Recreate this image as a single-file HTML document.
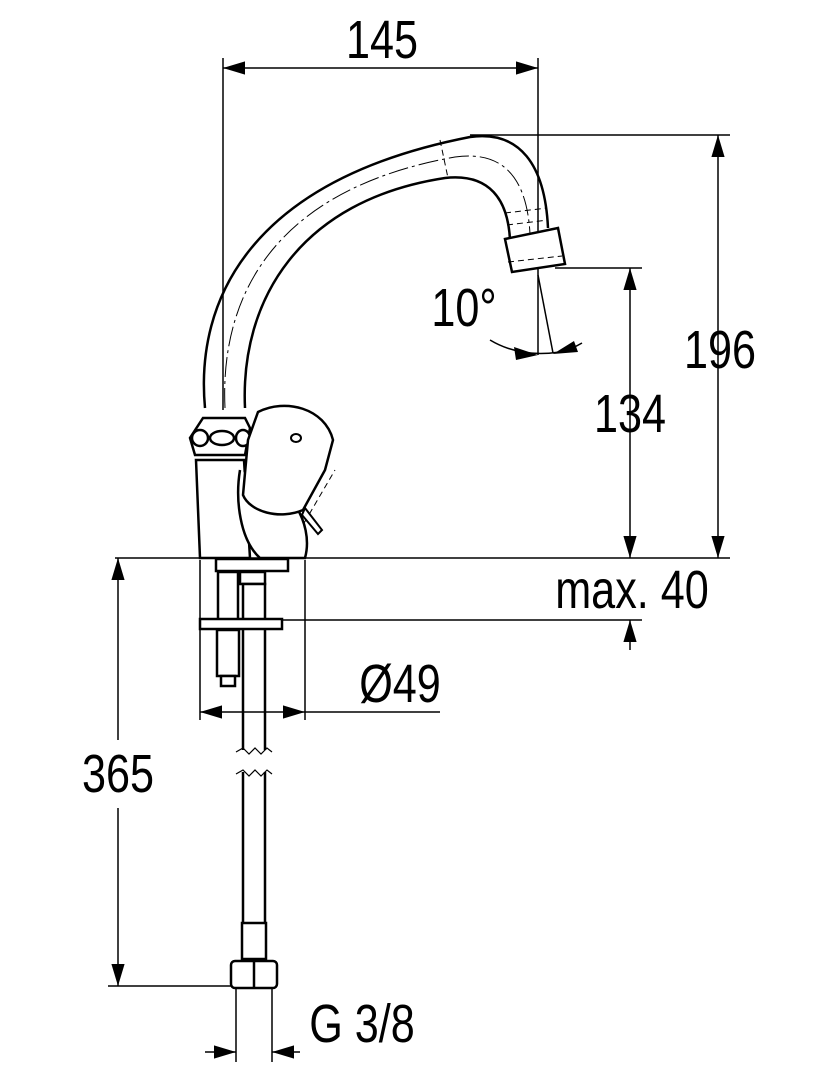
<!DOCTYPE html>
<html><head><meta charset="utf-8"><style>
html,body{margin:0;padding:0;background:#fff;}
svg{display:block;}
text{font-family:"Liberation Sans",sans-serif;font-size:54px;fill:#000;}
</style></head><body>
<svg width="832" height="1080" viewBox="0 0 832 1080" xmlns="http://www.w3.org/2000/svg">
<defs>
<marker id="a" viewBox="0 0 10 10" refX="10" refY="5" markerWidth="22" markerHeight="22" markerUnits="userSpaceOnUse" orient="auto-start-reverse"><path d="M0,2 L10,5 L0,8 z" fill="#000"/></marker>
</defs>
<g stroke="#000" stroke-width="1.5" fill="none">
<line x1="223" y1="58" x2="223" y2="410"/>
<line x1="538" y1="58" x2="538" y2="355"/>
<line x1="470" y1="135" x2="730" y2="135"/>
<line x1="555" y1="268" x2="642" y2="268"/>
<line x1="115" y1="558" x2="730" y2="558"/>
<line x1="282" y1="620" x2="642" y2="620"/>
<line x1="200" y1="560" x2="200" y2="720"/>
<line x1="305" y1="560" x2="305" y2="720"/>
<line x1="108" y1="986" x2="240" y2="986"/>
<line x1="236" y1="988" x2="236" y2="1062"/>
<line x1="272" y1="988" x2="272" y2="1062"/>
<line x1="223" y1="68" x2="538" y2="68" marker-start="url(#a)" marker-end="url(#a)"/>
<line x1="718" y1="135" x2="718" y2="558" marker-start="url(#a)" marker-end="url(#a)"/>
<line x1="630" y1="268" x2="630" y2="558" marker-start="url(#a)" marker-end="url(#a)"/>
<line x1="630" y1="650" x2="630" y2="620" marker-end="url(#a)"/>
<line x1="118" y1="558" x2="118" y2="740" marker-start="url(#a)"/>
<line x1="118" y1="808" x2="118" y2="986" marker-end="url(#a)"/>
<line x1="252" y1="712" x2="200" y2="712" marker-end="url(#a)"/>
<line x1="252" y1="712" x2="305" y2="712" marker-end="url(#a)"/>
<line x1="305" y1="712" x2="440" y2="712"/>
<line x1="205" y1="1052" x2="236" y2="1052" marker-end="url(#a)"/>
<line x1="300" y1="1052" x2="272" y2="1052" marker-end="url(#a)"/>
<line x1="538" y1="275" x2="553" y2="353"/>
<path d="M490,340 Q520,358 560,352 Q572,349 582,343"/>
</g>
<path d="M538,355 L514,347 L516,360 Z M553,354 L574,341 L578,352 Z" fill="#000"/>
<g stroke="#000" stroke-width="2.5" fill="#fff">
<path d="M205,408 C195,300 250,180 470,137 C520,130 545,165 548,228" fill="none"/>
<path d="M245,408 C240,300 300,200 445,178 C490,173 508,200 510,240" fill="none"/>
<path d="M505,239 L558,228 L565,264 L512,272 Z"/>
</g>
<g stroke="#000" stroke-width="1" fill="none" stroke-dasharray="6,4">
<path d="M225,408 C220,300 270,190 455,157 C505,150 527,180 530,234" stroke-dasharray="20,4,3,4"/>
<line x1="505" y1="213" x2="547" y2="208"/>
<line x1="507" y1="225" x2="548" y2="220"/>
<line x1="440" y1="140" x2="448" y2="178"/>
<line x1="508" y1="262" x2="562" y2="256"/>
<path d="M248,480 C215,490 220,540 245,555"/>
<path d="M262,420 L258,500 L300,530 L335,470"/>
</g>
<g stroke="#000" stroke-width="2.5" fill="#fff">
<path d="M203,418 L245,418 L250,428 L245,455 L195,455 L190,438 Z"/>
<path d="M196,460 L244,460 L250,558 L200,558 Z"/>
<path d="M240,470 C235,500 240,540 260,558 L305,558 C310,540 305,520 295,505" />
<ellipse cx="200" cy="438" rx="8" ry="8"/>
<ellipse cx="222" cy="438" rx="12" ry="7"/>
<ellipse cx="243" cy="438" rx="7" ry="8"/>
<path d="M258,412 C285,398 325,408 333,440 L325,470 L303,510 C280,520 250,512 243,495 L248,440 Z"/>
<ellipse cx="296" cy="438" rx="5" ry="4" stroke-width="2"/>
<path d="M305,508 L322,530 L318,534 L302,515 Z" stroke-width="2"/>
<rect x="216" y="559" width="72" height="12"/>
<rect x="240" y="572" width="25" height="12"/>
<rect x="218" y="572" width="20" height="48"/>
<rect x="243" y="584" width="22" height="36"/>
<rect x="200" y="619" width="82" height="10"/>
<rect x="217" y="630" width="22" height="46"/>
<rect x="221" y="676" width="14" height="10"/>
<line x1="243" y1="630" x2="243" y2="750"/>
<line x1="265" y1="630" x2="265" y2="750"/>
<line x1="243" y1="772" x2="243" y2="923"/>
<line x1="265" y1="772" x2="265" y2="923"/>
<rect x="242" y="923" width="24" height="36"/>
<rect x="231" y="961" width="46" height="27" rx="4"/>
<line x1="254" y1="961" x2="254" y2="988"/>
</g>
<g stroke="#000" stroke-width="1.2" fill="none">
<path d="M236,752 L243,748 L249,754 L255,748 L261,754 L267,748 L272,752"/>
<path d="M236,774 L243,770 L249,776 L255,770 L261,776 L267,770 L272,774"/>
</g>
<g transform="translate(382,58) scale(0.8,1)"><text text-anchor="middle">145</text></g>
<g transform="translate(720,368) scale(0.8,1)"><text text-anchor="middle">196</text></g>
<g transform="translate(630,432) scale(0.8,1)"><text text-anchor="middle">134</text></g>
<g transform="translate(464,326) scale(0.8,1)"><text text-anchor="middle">10°</text></g>
<g transform="translate(632,608) scale(0.8,1)"><text text-anchor="middle">max. 40</text></g>
<g transform="translate(400,702) scale(0.8,1)"><text text-anchor="middle">Ø49</text></g>
<g transform="translate(118,792) scale(0.8,1)"><text text-anchor="middle">365</text></g>
<g transform="translate(362,1042) scale(0.8,1)"><text text-anchor="middle">G 3/8</text></g>
</svg>
</body></html>
